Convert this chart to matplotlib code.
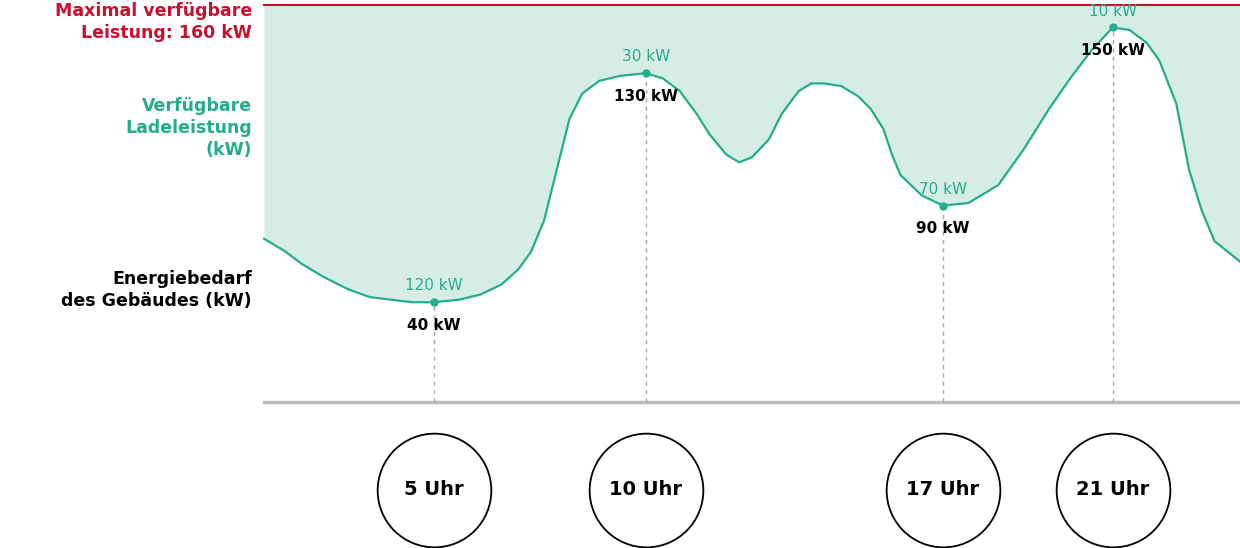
import matplotlib.pyplot as plt

# curve: hour of day, building demand (plot units ~kW)
hours = [1.0, 1.5, 1.9, 2.4, 3.0, 3.5, 4.0, 4.5, 5.0, 5.6, 6.1, 6.6, 7.0, 7.3, 7.6,
         7.9, 8.2, 8.5, 8.9, 9.4, 10.0, 10.4, 10.8, 11.2, 11.5, 11.9, 12.2, 12.5,
         12.9, 13.2, 13.6, 13.9, 14.2, 14.6, 15.0, 15.3, 15.6, 15.8, 16.0, 16.5,
         17.0, 17.6, 18.3, 18.9, 19.5, 20.0, 20.5, 21.0, 21.4, 21.8, 22.1, 22.5,
         22.8, 23.1, 23.4, 23.7, 24.0]
demand = [65, 60, 55, 50, 45, 42, 41, 40, 40, 41, 43, 47, 53, 60, 72,
          92, 112, 122, 127, 129, 130, 128, 123, 114, 106, 98, 95, 97,
          104, 114, 123, 126, 126, 125, 121, 116, 108, 98, 90, 82,
          78, 79, 86, 100, 116, 128, 139, 148, 147, 142, 135, 118,
          92, 76, 64, 60, 56]

mark_hours = [5, 10, 17, 21]
mark_demand = [40, 130, 78, 148]
demand_labels = ['40 kW', '130 kW', '90 kW', '150 kW']
free_labels = ['120 kW', '30 kW', '70 kW', '10 kW']
time_labels = ['5 Uhr', '10 Uhr', '17 Uhr', '21 Uhr']
max_power = 157

green = '#22ad8c'
red = '#c8102e'

fig = plt.figure(figsize=(12.4, 5.48), dpi=100)
ax = fig.add_axes([263 / 1240, 0, 977 / 1240, 1])
ax.set_xlim(0.98, 24)
ax.set_ylim(-56.6, 158.8)
ax.axis('off')

ax.fill_between(hours, demand, max_power, color='#d6ede5', lw=0)
ax.axhline(max_power, color=red, lw=1.5)
ax.plot(hours, demand, color=green, lw=1.6, solid_joinstyle='round')
ax.axhline(0.8, color='#bdbdbd', lw=2.5)

for h, d, dl, fl, tl in zip(mark_hours, mark_demand, demand_labels, free_labels, time_labels):
    ax.plot([h, h], [0.8, d], color='#aaaaaa', lw=1, ls=(0, (3, 3)))
    ax.plot(h, d, 'o', color=green, ms=5)
    ax.text(h, d + 3.5, fl, color=green, fontsize=11, ha='center', va='bottom')
    ax.text(h, d - 6, dl, color='black', fontsize=11, fontweight='bold', ha='center', va='top')
    ax.scatter([h], [-33.8], s=6700, facecolor='white', edgecolor='black', lw=1.3, clip_on=False)
    ax.text(h, -33.8, tl, fontsize=14, fontweight='bold', ha='center', va='center')

fig.text(252 / 1240, 1 - 22 / 548, 'Maximal verfügbare\nLeistung: 160 kW', color=red,
         fontsize=12.5, fontweight='bold', ha='right', va='center', linespacing=1.3)
fig.text(252 / 1240, 1 - 128 / 548, 'Verfügbare\nLadeleistung\n(kW)', color=green,
         fontsize=12.5, fontweight='bold', ha='right', va='center', linespacing=1.3)
fig.text(252 / 1240, 1 - 290 / 548, 'Energiebedarf\ndes Gebäudes (kW)', color='black',
         fontsize=12.5, fontweight='bold', ha='right', va='center', linespacing=1.3)

plt.savefig('out.png', dpi=100)
plt.close()
